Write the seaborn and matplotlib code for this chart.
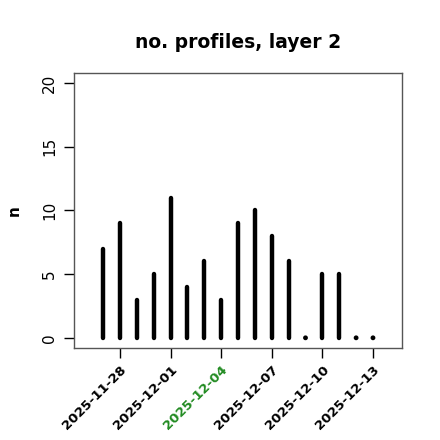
import matplotlib
matplotlib.use("Agg")
import matplotlib.pyplot as plt
import seaborn as sns
import pandas as pd
import numpy as np

dates = pd.date_range("2025-11-27", "2025-12-13", freq="D")
counts = [7, 9, 3, 5, 11, 4, 6, 3, 9, 10, 8, 6, 0, 5, 5, 0, 0]
tick_dates = ["2025-11-28", "2025-12-01", "2025-12-04", "2025-12-07", "2025-12-10", "2025-12-13"]
highlight_date = "2025-12-04"
y_ticks = [0, 5, 10, 15, 20]

df = pd.DataFrame({"date": dates, "n": counts})

sns.set_theme(style="white")
plt.rcParams["font.family"] = ["DejaVu Sans"]

fig = plt.figure(figsize=(4.4, 4.4), dpi=100)
ax = fig.add_axes([74/440, 1-348/440, (402-74)/440, (348-73)/440])

ax.vlines(df["date"], 0, df["n"], colors="black", linewidth=3.2, capstyle="round")
zeros = df[df["n"] == 0]
sns.scatterplot(data=zeros, x="date", y="n", ax=ax, color="black", s=12, edgecolor="none", legend=False)

start = pd.Timestamp("2025-11-26") - pd.Timedelta(days=0.72)
end = pd.Timestamp("2025-12-14") + pd.Timedelta(days=0.72)
ax.set_xlim(start, end)
ax.set_ylim(-0.8, 20.8)

ax.set_yticks(y_ticks)
ax.set_yticklabels([str(v) for v in y_ticks], rotation=90, va="center", fontsize=11)
tk = pd.to_datetime(tick_dates)
ax.set_xticks(tk)
labels = ax.set_xticklabels(tick_dates, rotation=45, ha="right", rotation_mode="anchor",
                            fontsize=9.5, fontweight="bold")
for lab, d in zip(labels, tick_dates):
    lab.set_color("#228B22" if d == highlight_date else "black")
for lab in ax.get_yticklabels():
    lab.set_color("black")

ax.tick_params(axis="both", which="major", direction="out", length=7, width=1, color="black",
               bottom=True, left=True)
ax.tick_params(axis="y", pad=5)
ax.tick_params(axis="x", pad=4)

for s in ax.spines.values():
    s.set_color("#555555")
    s.set_linewidth(1)

ax.set_xlabel("")
ax.set_ylabel("n", fontweight="bold", fontsize=11, labelpad=15, color="black")
ax.set_title("no. profiles, layer 2", fontweight="bold", fontsize=13.5, pad=18, color="black")
ax.grid(False)

fig.savefig("out.png", dpi=100, facecolor="white")
